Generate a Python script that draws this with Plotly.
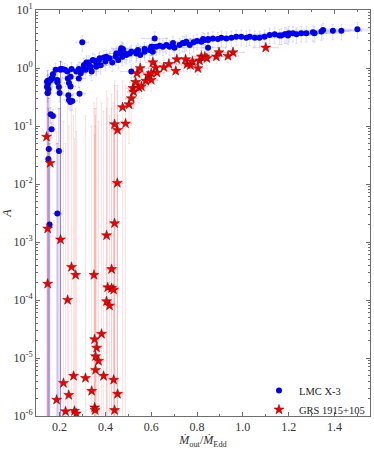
import plotly.graph_objects as go

# LMC X-3 (blue circles)
lmc_x = [0.145, 0.145, 0.148, 0.148, 0.148, 0.151, 0.152, 0.161, 0.164, 0.17, 0.171,
         0.183, 0.19, 0.19, 0.197, 0.2, 0.212, 0.223, 0.234, 0.236, 0.241, 0.241,
         0.248, 0.248, 0.238, 0.255, 0.247, 0.252, 0.273, 0.284, 0.284, 0.292, 0.287,
         0.299, 0.302, 0.306, 0.314, 0.317, 0.328, 0.331, 0.335, 0.34, 0.345, 0.354,
         0.36, 0.36, 0.372, 0.375, 0.379, 0.393, 0.4, 0.404, 0.418, 0.43, 0.445,
         0.447, 0.456, 0.462, 0.466, 0.469, 0.474, 0.476, 0.476, 0.485, 0.491, 0.506,
         0.513, 0.513, 0.535, 0.535, 0.542, 0.552, 0.571, 0.571, 0.593, 0.6, 0.607,
         0.607, 0.615, 0.622, 0.637, 0.651, 0.666, 0.68, 0.695, 0.702, 0.724, 0.738,
         0.746, 0.753, 0.768, 0.785, 0.8, 0.819, 0.826, 0.833, 0.848, 0.848, 0.848,
         0.869, 0.891, 0.906, 0.928, 0.95, 0.971, 0.993, 1.015, 1.03, 1.052, 1.073,
         1.095, 1.117, 1.139, 1.16, 1.168, 1.183, 1.19, 1.197, 1.201, 1.219, 1.234,
         1.255, 1.277, 1.306, 1.313, 1.343, 1.35, 1.393, 1.43, 1.5,
         0.161, 0.171, 0.165]
lmc_A = [0.58, 0.47, 0.60, 0.51, 0.37, 0.43, 0.57, 0.62, 0.66, 0.67, 0.78,
         0.93, 0.57, 0.62, 0.47, 0.37, 0.96, 0.93, 0.87, 0.66, 0.55, 0.28,
         0.71, 0.48, 0.34, 0.27, 0.26, 0.96, 0.87, 0.96, 0.66, 0.81, 0.36,
         2.77, 0.93, 1.12, 0.93, 1.25, 1.25, 1.05, 1.05, 0.87, 1.38, 1.32,
         1.05, 1.12, 1.38, 1.47, 1.12, 1.52, 1.29, 1.57, 1.47, 1.25, 1.57,
         1.78, 1.38, 1.78, 1.96, 2.18, 1.57, 2.13, 2.04, 1.78, 1.67, 1.78,
         1.9, 0.87, 1.78, 1.9, 2.04, 1.67, 2.13, 1.9, 2.04, 2.33, 1.9,
         2.33, 3.24, 2.33, 2.43, 2.33, 2.5, 2.33, 2.7, 2.24, 2.5, 2.7,
         2.7, 2.84, 2.5, 2.77, 2.93, 2.84, 3.16, 3.03, 3.16, 3.03, 2.24,
         3.24, 3.16, 3.33, 3.24, 3.33, 3.47, 3.47, 3.33, 3.47, 3.33, 3.33,
         3.47, 3.72, 3.8, 3.63, 3.63, 3.8, 3.8, 3.63, 3.98, 3.98, 3.8,
         3.98, 3.98, 4.12, 3.98, 4.27, 4.52, 4.37, 4.37, 4.68,
         0.16, 0.148, 0.088]

# LMC X-3 points whose lower error reaches below the plotted range
lmc_long_x = [0.148, 0.151, 0.153, 0.156, 0.19, 0.197, 0.204, 0.204]
lmc_long_A = [0.37, 0.027, 0.04, 2.0e-3, 3.1e-3, 0.037, 0.93, 0.96]
lmc_long_hi = [0.9, 0.2, 0.3, 0.05, 0.05, 0.2, 1.3, 1.3]
lmc_long_lo = [1e-7, 1e-7, 1e-7, 1e-7, 1e-7, 1e-7, 1e-7, 1e-7]

# GRS 1915+105 (red stars)
grs_x = [0.143, 0.148, 0.148, 0.159, 0.187, 0.204, 0.217, 0.226, 0.235, 0.24,
         0.252, 0.261, 0.265, 0.27, 0.273, 0.313, 0.34, 0.35, 0.353, 0.353,
         0.355, 0.357, 0.357, 0.362, 0.37, 0.383, 0.392, 0.405, 0.405, 0.41,
         0.418, 0.427, 0.427, 0.436, 0.436, 0.44, 0.44, 0.44, 0.452, 0.453,
         0.453, 0.475, 0.488, 0.503, 0.513, 0.52, 0.523, 0.532, 0.538, 0.546,
         0.552, 0.557, 0.576, 0.587, 0.6, 0.6, 0.607, 0.619, 0.625, 0.655,
         0.677, 0.707, 0.712, 0.75, 0.756, 0.771, 0.78, 0.804, 0.811, 0.819,
         0.834, 0.843, 0.884, 0.896, 0.935, 0.957, 1.10]
grs_A = [0.065, 1.7e-3, 1.9e-4, 0.023, 1.9e-6, 1.1e-3, 3.7e-6, 1.2e-6, 1.0e-4, 2.3e-6,
         3.7e-4, 4.9e-6, 1.22e-6, 2.7e-4, 1.1e-6, 4.5e-6, 2.7e-6, 2.7e-4, 2.1e-5, 1.4e-6,
         1.26e-6, 1.07e-5, 6.2e-6, 1.5e-5, 8.9e-6, 2.6e-5, 4.9e-6, 1.3e-3, 9.5e-5, 1.65e-4,
         8.0e-5, 3.4e-4, 1.6e-4, 1.5e-4, 4.2e-6, 2.1e-3, 1.26e-6, 0.107, 0.0104, 2.4e-6,
         0.085, 0.21, 0.11, 0.235, 0.30, 0.45, 0.39, 0.57, 0.81, 0.46,
         0.99, 0.48, 0.60, 0.74, 0.81, 0.62, 1.25, 1.01, 0.83, 1.03,
         1.17, 0.89, 1.41, 1.41, 1.16, 1.12, 1.29, 0.99, 1.34, 1.57,
         1.57, 1.47, 1.57, 1.86, 1.61, 1.86, 2.24]
grs_hi = [0.5, 0.3, 0.15, 0.4, 0.08, 0.2, 0.12, 0.05, 0.25, 0.1,
          0.3, 0.15, 0.06, 0.2, 0.08, 0.15, 0.1, 0.25, 0.2, 0.07,
          0.1, 0.15, 0.2, 0.3, 0.12, 0.25, 0.18, 0.4, 0.2, 0.3,
          0.15, 0.35, 0.2, 0.25, 0.1, 0.5, 0.12, 0.6, 0.4, 0.15,
          0.5, 0.6, 0.5, 0.45, 0.55, 0.7, 0.6, 0.8, 1.1, 0.7,
          1.3, 0.7, 0.85, 1.0, 1.1, 0.9, 1.6, 1.3, 1.1, 1.35,
          1.5, 1.2, 1.8, 1.8, 1.5, 1.45, 1.65, 1.3, 1.7, 2.0,
          2.0, 1.9, 2.0, 2.3, 2.0, 2.3, 2.7]
grs_lo = [1e-7] * 43 + [
          0.05, 0.1, 0.2, 0.2, 0.35, 0.55, 0.25,
          0.7, 0.3, 0.4, 0.5, 0.55, 0.4, 0.9, 0.75, 0.6, 0.75,
          0.85, 0.65, 1.05, 1.05, 0.85, 0.85, 0.95, 0.75, 1.0, 1.2,
          1.2, 1.1, 1.2, 1.45, 1.25, 1.45, 1.8]

ytick_vals = [1e-6, 1e-5, 1e-4, 1e-3, 1e-2, 1e-1, 1, 10]
ytick_text = ["10<sup>-6</sup>", "10<sup>-5</sup>", "10<sup>-4</sup>", "10<sup>-3</sup>",
              "10<sup>-2</sup>", "10<sup>-1</sup>", "10<sup>0</sup>", "10<sup>1</sup>"]
xtick_vals = [0.2, 0.4, 0.6, 0.8, 1.0, 1.2, 1.4]
xtick_text = ["0.2", "0.4", "0.6", "0.8", "1.0", "1.2", "1.4"]

BLUE = "#0000e6"
RED = "#ee0000"
SERIF = "Liberation Serif, Times New Roman, serif"

fig = go.Figure()

# long lower error bars of LMC X-3 (drawn behind)
fig.add_trace(go.Scatter(
    x=lmc_long_x, y=lmc_long_A, mode="markers",
    marker=dict(color=BLUE, size=6),
    error_y=dict(type="data", symmetric=False,
                 array=[h - a for h, a in zip(lmc_long_hi, lmc_long_A)],
                 arrayminus=[a - l for a, l in zip(lmc_long_A, lmc_long_lo)],
                 color="rgba(40,40,230,0.3)", thickness=1, width=1),
    error_x=dict(type="percent", value=10, color="rgba(0,0,255,0.15)", thickness=1, width=1),
    showlegend=False, hoverinfo="skip",
))

fig.add_trace(go.Scatter(
    x=lmc_x, y=lmc_A, mode="markers", name="LMC X-3",
    marker=dict(color=BLUE, size=6, symbol="circle"),
    error_y=dict(type="percent", value=30, color="rgba(0,0,255,0.13)", thickness=1, width=1),
    error_x=dict(type="percent", value=9, color="rgba(0,0,255,0.13)", thickness=1, width=1),
))

fig.add_trace(go.Scatter(
    x=grs_x, y=grs_A, mode="markers", name="GRS 1915+105",
    marker=dict(color=RED, size=7.5, symbol="star",
                line=dict(color="#7a0000", width=0.5)),
    error_y=dict(type="data", symmetric=False,
                 array=[h - a for h, a in zip(grs_hi, grs_A)],
                 arrayminus=[a - l for a, l in zip(grs_A, grs_lo)],
                 color="rgba(255,0,0,0.12)", thickness=1, width=1),
    error_x=dict(type="percent", value=5, color="rgba(255,0,0,0.18)", thickness=1, width=1),
))

axis_common = dict(
    showline=True, linecolor="#6e6e6e", linewidth=1, mirror="allticks",
    ticks="inside", ticklen=4, tickcolor="#6e6e6e", showgrid=False, zeroline=False,
    tickfont=dict(family=SERIF, size=12, color="#333"), automargin=False,
)

fig.update_xaxes(
    range=[0.097, 1.555], tickvals=xtick_vals, ticktext=xtick_text,
    minor=dict(ticks="inside", ticklen=2, dtick=0.1, tick0=0, tickcolor="#6e6e6e"),
    title=dict(text="<i>M&#775;</i><sub>out</sub>/<i>M&#775;</i><sub>Edd</sub>",
               font=dict(family=SERIF, size=12, color="#333"), standoff=0),
    **axis_common,
)
fig.update_yaxes(
    type="log", range=[-6, 1], tickvals=ytick_vals, ticktext=ytick_text,
    minor=dict(ticks="inside", ticklen=2, dtick="D1", tickcolor="#6e6e6e"),
    title=dict(text="<i>A</i>", font=dict(family=SERIF, size=12, color="#333"), standoff=2),
    **axis_common,
)

fig.update_layout(
    width=374, height=449,
    margin=dict(l=36, r=4, t=10, b=33),
    plot_bgcolor="white", paper_bgcolor="white",
    font=dict(family=SERIF, size=12, color="#222"),
    showlegend=True,
    legend=dict(x=1.0, y=-0.02, xanchor="right", yanchor="bottom",
                bgcolor="rgba(0,0,0,0)", font=dict(family=SERIF, size=10.5, color="#222"),
                itemwidth=30, tracegroupgap=0),
)

# page body has a default 8px margin; remove it so the figure fills the window
fig.write_html("out.html", config={"displayModeBar": False},
               post_script="document.body.style.margin='0';")
